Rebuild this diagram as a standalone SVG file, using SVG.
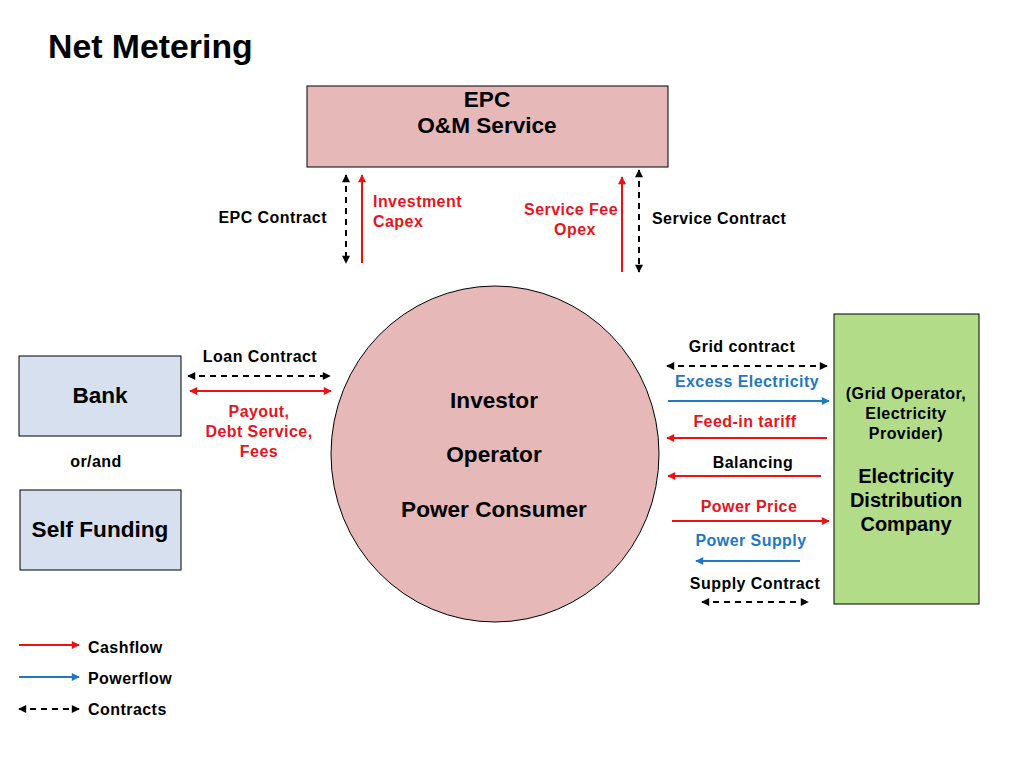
<svg xmlns="http://www.w3.org/2000/svg" width="1010" height="768" viewBox="0 0 1010 768">
<style>
text{font-family:"Liberation Sans",Arial,sans-serif;font-weight:bold;fill:#000}
.t15{font-size:16px;letter-spacing:0.45px}
.t21{font-size:22.6px}
.red{fill:#E8141B}
.blue{fill:#1F78C1}
.mid{text-anchor:middle}
.end{text-anchor:end}
.box{stroke:#000;stroke-width:1}
.cash{stroke:#EE1111;stroke-width:2;fill:none}
.power{stroke:#1F78C1;stroke-width:2;fill:none}
.contract{stroke:#000;stroke-width:2;stroke-dasharray:6,5;fill:none}
</style>
<defs>
<marker id="ar" viewBox="0 0 10 10" refX="9" refY="5" markerWidth="9" markerHeight="8" markerUnits="userSpaceOnUse" orient="auto-start-reverse"><path d="M0,0L10,5L0,10z" fill="#EE1111"/></marker>
<marker id="ab" viewBox="0 0 10 10" refX="9" refY="5" markerWidth="9" markerHeight="8" markerUnits="userSpaceOnUse" orient="auto-start-reverse"><path d="M0,0L10,5L0,10z" fill="#1F78C1"/></marker>
<marker id="ak" viewBox="0 0 10 10" refX="9" refY="5" markerWidth="9" markerHeight="8" markerUnits="userSpaceOnUse" orient="auto-start-reverse"><path d="M0,0L10,5L0,10z" fill="#000"/></marker>
</defs>
<rect width="1010" height="768" fill="#fff"/>
<text x="48" y="58" style="font-size:33.8px">Net Metering</text>

<g id="epc">
<rect class="box" x="307" y="86" width="361" height="81" fill="#E6B8B7"/>
<text class="t21 mid" x="487" y="107">EPC</text>
<text class="t21 mid" x="487" y="133">O&amp;M Service</text>
</g>

<g id="investor">
<ellipse class="box" cx="495" cy="454" rx="164" ry="168" fill="#E6B8B7"/>
<text class="t21 mid" x="494" y="408">Investor</text>
<text class="t21 mid" x="494" y="462">Operator</text>
<text class="t21 mid" x="494" y="517">Power Consumer</text>
</g>

<g id="bank">
<rect class="box" x="19" y="356" width="162" height="80" fill="#D6E0EE"/>
<text class="t21 mid" x="100" y="403">Bank</text>
</g>

<g id="selffunding">
<rect class="box" x="20" y="490" width="161" height="80" fill="#D6E0EE"/>
<text class="t21 mid" x="100" y="537">Self Funding</text>
</g>
<text class="t15 mid" x="96" y="467">or/and</text>

<g id="edc">
<rect class="box" x="834" y="314" width="145" height="290" fill="#B2DC88"/>
<text class="t15 mid" x="906" y="399">(Grid Operator,</text>
<text class="t15 mid" x="906" y="419">Electricity</text>
<text class="t15 mid" x="906" y="439">Provider)</text>
<text class="mid" x="906" y="483" style="font-size:20px">Electricity</text>
<text class="mid" x="906" y="507" style="font-size:20px">Distribution</text>
<text class="mid" x="906" y="531" style="font-size:20px">Company</text>
</g>

<g id="connectors">
<line class="contract" x1="346" y1="175" x2="346" y2="263" marker-start="url(#ak)" marker-end="url(#ak)"/>
<line class="cash" x1="362" y1="263" x2="362" y2="175" marker-end="url(#ar)"/>
<line class="cash" x1="622" y1="272" x2="622" y2="177" marker-end="url(#ar)"/>
<line class="contract" x1="639" y1="170" x2="639" y2="272" marker-start="url(#ak)" marker-end="url(#ak)"/>

<line class="contract" x1="188" y1="376" x2="330" y2="376" marker-start="url(#ak)" marker-end="url(#ak)"/>
<line class="cash" x1="190" y1="391" x2="331" y2="391" marker-start="url(#ar)" marker-end="url(#ar)"/>

<line class="contract" x1="667" y1="366" x2="827" y2="366" marker-start="url(#ak)" marker-end="url(#ak)"/>
<line class="power" x1="668" y1="401" x2="829" y2="401" marker-end="url(#ab)"/>
<line class="cash" x1="827" y1="438" x2="667" y2="438" marker-end="url(#ar)"/>
<line class="cash" x1="821" y1="476" x2="668" y2="476" marker-end="url(#ar)"/>
<line class="cash" x1="672" y1="521" x2="829" y2="521" marker-end="url(#ar)"/>
<line class="power" x1="800" y1="561" x2="696" y2="561" marker-end="url(#ab)"/>
<line class="contract" x1="702" y1="602" x2="808" y2="602" marker-start="url(#ak)" marker-end="url(#ak)"/>

<line class="cash" x1="19" y1="645" x2="79" y2="645" marker-end="url(#ar)"/>
<line class="power" x1="19" y1="677" x2="79" y2="677" marker-end="url(#ab)"/>
<line class="contract" x1="19" y1="709" x2="79" y2="709" marker-start="url(#ak)" marker-end="url(#ak)"/>
</g>

<g id="labels">
<text class="t15 end" x="327" y="223">EPC Contract</text>
<text class="t15 red" x="373" y="207">Investment</text>
<text class="t15 red" x="373" y="227">Capex</text>
<text class="t15 red end" x="618" y="215">Service Fee</text>
<text class="t15 red mid" x="575" y="235">Opex</text>
<text class="t15" x="652" y="224">Service Contract</text>

<text class="t15 mid" x="260" y="362">Loan Contract</text>
<text class="t15 red mid" x="259" y="417">Payout,</text>
<text class="t15 red mid" x="259" y="437">Debt Service,</text>
<text class="t15 red mid" x="259" y="457">Fees</text>

<text class="t15 mid" x="742" y="352">Grid contract</text>
<text class="t15 blue mid" x="747" y="387">Excess Electricity</text>
<text class="t15 red mid" x="745" y="427">Feed-in tariff</text>
<text class="t15 mid" x="753" y="468">Balancing</text>
<text class="t15 red mid" x="749" y="512">Power Price</text>
<text class="t15 blue mid" x="751" y="546">Power Supply</text>
<text class="t15 mid" x="755" y="589">Supply Contract</text>

<text class="t15" x="88" y="653">Cashflow</text>
<text class="t15" x="88" y="684">Powerflow</text>
<text class="t15" x="88" y="715">Contracts</text>
</g>
</svg>
